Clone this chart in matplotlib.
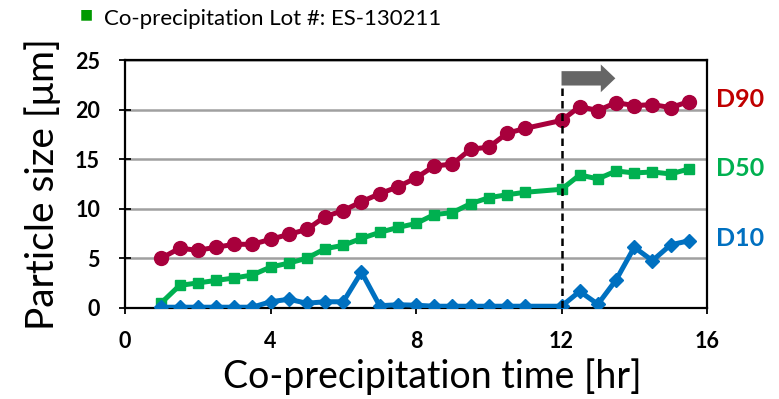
import matplotlib.pyplot as plt
from matplotlib.patches import FancyArrow

plt.rcParams['font.family'] = ['Lato', 'DejaVu Sans']

# sampling times (hr)
t = [1, 1.5, 2, 2.5, 3, 3.5, 4, 4.5, 5, 5.5, 6, 6.5, 7, 7.5, 8, 8.5,
     9, 9.5, 10, 10.5, 11, 12, 12.5, 13, 13.5, 14, 14.5, 15, 15.5]

d90 = [5.0, 6.0, 5.8, 6.1, 6.4, 6.4, 6.9, 7.4, 7.9, 9.2, 9.8, 10.7, 11.5, 12.2,
       13.1, 14.3, 14.5, 16.0, 16.2, 17.6, 18.1, 18.9, 20.3, 19.9, 20.7, 20.4,
       20.5, 20.2, 20.8]
d50 = [0.5, 2.25, 2.5, 2.75, 3.0, 3.3, 4.1, 4.5, 5.0, 5.95, 6.3, 7.0, 7.6, 8.1,
       8.5, 9.4, 9.6, 10.5, 11.1, 11.4, 11.65, 11.95, 13.4, 13.0, 13.8, 13.6,
       13.7, 13.5, 14.0]
d10 = [0.05, 0.05, 0.05, 0.05, 0.05, 0.05, 0.6, 0.85, 0.45, 0.6, 0.6, 3.6, 0.2,
       0.3, 0.25, 0.15, 0.15, 0.15, 0.15, 0.15, 0.15, 0.15, 1.65, 0.35, 2.8,
       6.1, 4.75, 6.35, 6.75]

c90 = '#A8003C'
c50 = '#00B050'
c10 = '#0070C0'

fig = plt.figure(figsize=(7.79, 3.99), dpi=100)
ax = fig.add_axes([0.1605, 0.2288, 0.7471, 0.6208])

ax.plot(t, d90, color=c90, lw=3.6, marker='o', ms=10, zorder=3)
ax.plot(t, d50, color=c50, lw=3.6, marker='s', ms=7.5, zorder=3)
ax.plot(t, d10, color=c10, lw=3.6, marker='D', ms=7.5, zorder=3)

ax.set_xlim(0, 16)
ax.set_ylim(0, 25)
ax.set_xticks([0, 4, 8, 12, 16])
ax.set_yticks([0, 5, 10, 15, 20, 25])
ax.yaxis.grid(True, color='#A0A0A0', lw=1.8)
ax.set_axisbelow(True)
for s in ax.spines.values():
    s.set_linewidth(1.6)
ax.tick_params(direction='inout', length=8, width=1.3, labelsize=15.5)
ax.tick_params(axis='x', pad=13)
ax.tick_params(axis='y', pad=14)
for lab in ax.get_xticklabels() + ax.get_yticklabels():
    lab.set_fontweight('bold')

ax.set_xlabel('Co-precipitation time [hr]', fontsize=27, labelpad=2)
ax.xaxis.set_label_coords(0.528, -0.205)
ax.set_ylabel('Particle size [μm]', fontsize=28, labelpad=10)

# switch point at 12 hr
ax.plot([12, 12], [0, 22.3], color='black', lw=1.8, ls=(0, (3, 2)), zorder=4)
ax.add_patch(FancyArrow(12, 23.15, 1.48, 0, width=1.45, head_width=2.8,
                        head_length=0.4, length_includes_head=True,
                        color='#666666', lw=0, zorder=4))

ax.text(1.015, 21.0, 'D90', transform=ax.get_yaxis_transform(), color='#C00000',
        fontsize=18, fontweight='bold', va='center', ha='left')
ax.text(1.015, 14.0, 'D50', transform=ax.get_yaxis_transform(), color=c50,
        fontsize=18, fontweight='bold', va='center', ha='left')
ax.text(1.015, 7.0, 'D10', transform=ax.get_yaxis_transform(), color=c10,
        fontsize=18, fontweight='bold', va='center', ha='left')

fig.text(0.103, 0.965, '■', color='#009900', fontsize=10, va='center', ha='left')
fig.text(0.134, 0.952, 'Co-precipitation Lot #: ES-130211', fontsize=16,
         va='center', ha='left')

fig.savefig('out.png', dpi=100)
